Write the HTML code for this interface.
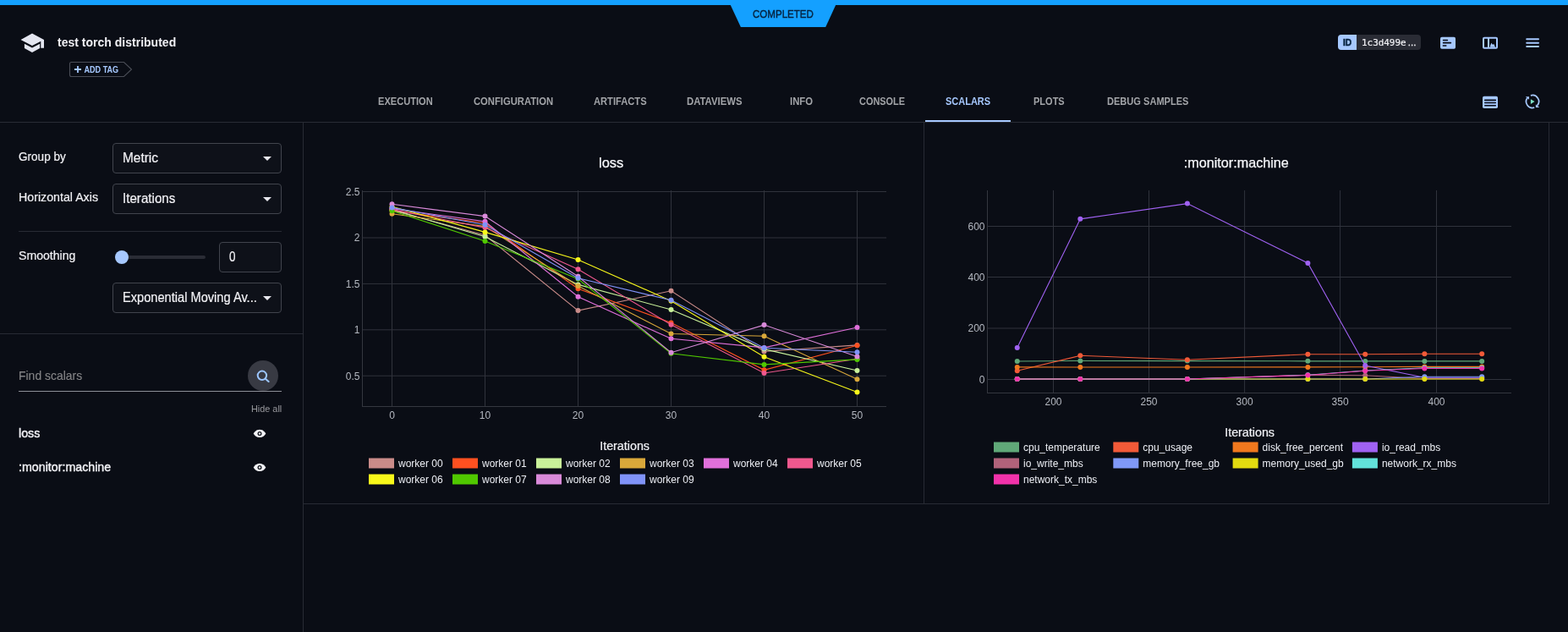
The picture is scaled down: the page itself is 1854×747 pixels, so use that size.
<!DOCTYPE html>
<html lang="en"><head><meta charset="utf-8"><title>test torch distributed</title>
<style>
*{box-sizing:border-box;margin:0;padding:0}
html,body{width:1854px;height:747px;overflow:hidden;background:#0a0d15;font-family:"Liberation Sans", sans-serif;color:#e4e6ee}
.abs{position:absolute}
.t{position:absolute;white-space:pre;transform-origin:0 50%}
#top{position:absolute;left:0;top:0;width:1854px;height:6px;background:#14a0ff}
#status{position:absolute;left:863px;top:5px;width:126px;height:27px;background:#14a0ff;clip-path:polygon(0.3px 0,125.6px 0,113.2px 100%,12.9px 100%)}
#tabline{position:absolute;left:0;top:144px;width:1854px;height:1px;background:#282b34}
#actline{position:absolute;left:1094px;top:142px;width:101px;height:2px;background:#a6c8ff}
.sel{position:absolute;left:133px;width:200px;height:36px;border:1px solid #41444d;border-radius:4px;background:#0e1119}
.sel.dd:after{content:"";position:absolute;right:11px;top:15px;border-left:5px solid transparent;border-right:5px solid transparent;border-top:5px solid #e8e8ee}
.hr{position:absolute;height:1px;background:#282b34}
svg text{font-family:"Liberation Sans", sans-serif}
.tk{font-size:12px;fill:#b4b8c0}
.ttl{font-size:16.4px;fill:#f6f7fa;stroke:#f6f7fa;stroke-width:.25px}
.axt{font-size:14.2px;fill:#f2f3f7;stroke:#f2f3f7;stroke-width:.2px}
.lg{font-size:12px;fill:#eceef4}
</style></head><body>
<header>
<div id="top"></div>
<div id="status"></div><span class="t " style="left:889.60px;top:8.00px;font-size:12.4px;line-height:18px;color:#06223e;transform:scaleX(0.9324);-webkit-text-stroke:0.4px #06223e;">COMPLETED</span>

<svg class="abs" style="left:24px;top:39px" width="30" height="24" viewBox="0 0 30 24">
 <path d="M14 0.4 L0.5 8 L14 15.1 L24.3 9.7 V17.8 H28 V8 Z" fill="#e4e6f0"/>
 <path d="M4.9 12.8 V17.9 L14 23 L23.1 17.9 V12.8 L14 17.5 Z" fill="#e4e6f0"/>
</svg>
<h1 style="font-size:0"><span class="t " style="left:68.20px;top:39.00px;font-size:15px;line-height:21px;color:#f0f0f4;font-weight:bold;transform:scaleX(0.9346);">test torch distributed</span></h1>

<svg class="abs" style="left:81px;top:72px" width="78" height="20" viewBox="0 0 78 20">
 <path d="M3.5 1.5 H65.5 L74.5 10 L65.5 18.5 H3.5 Q1.5 18.5 1.5 16.5 V3.5 Q1.5 1.5 3.5 1.5 Z" fill="none" stroke="#4a4d56" stroke-width="1.1"/>
 <path d="M7 10 H15 M11 6 V14" stroke="#a6c8ff" stroke-width="1.8" fill="none"/>
 <text x="18.4" y="13.9" font-size="11" font-weight="bold" fill="#a6c8ff" textLength="40.8" lengthAdjust="spacingAndGlyphs">ADD TAG</text>
</svg>

<div class="abs" style="left:1582px;top:41px;width:98px;height:18px;border-radius:4px;background:#2a2c35;overflow:hidden">
 <div class="abs" style="left:0;top:0;width:22px;height:18px;background:#a6c8ff"></div>
</div>
<span class="t " style="left:1588.00px;top:42.00px;font-size:11.5px;line-height:16px;color:#06223e;font-weight:bold;transform:scaleX(0.8870);-webkit-text-stroke:0.5px #06223e;">ID</span><span class="t " style="left:1609.60px;top:42.00px;font-size:11px;line-height:17px;color:#f0f0f4;font-family:'DejaVu Sans Mono','Liberation Mono',monospace;transform:scaleX(0.9927);-webkit-text-stroke:0.2px #f0f0f4;">1c3d499e</span><span class="t " style="left:1664.80px;top:42.00px;font-size:11.5px;line-height:16px;color:#f0f0f4;-webkit-text-stroke:0.3px #f0f0f4;">...</span>

<svg class="abs" style="left:1703px;top:43px" width="18" height="16" viewBox="0 0 18 16">
 <rect x="0" y="0.7" width="18" height="14" rx="1.8" fill="#a6c8ff"/>
 <path d="M3.6 4.45 H8.4 M3.6 7.65 H12.4 M3.4 10.95 H6.8" stroke="#070a12" stroke-width="1.6" stroke-linecap="round" fill="none"/>
</svg>
<svg class="abs" style="left:1753px;top:43px" width="18" height="16" viewBox="0 0 18 16">
 <rect x="1" y="1.7" width="16" height="12" rx="1" fill="none" stroke="#a6c8ff" stroke-width="2"/>
 <rect x="6" y="1.7" width="2" height="12" fill="#a6c8ff"/>
 <path d="M9 12.7 V11.2 L10.3 7.8 L11.9 9.7 L13.3 9 L15 12.7 Z" fill="#a6c8ff"/>
</svg>
<svg class="abs" style="left:1803px;top:43px" width="18" height="16" viewBox="0 0 18 16">
 <path d="M2.2 3.3 H16 M2.2 7.7 H16 M2.2 12 H16" stroke="#a6c8ff" stroke-width="2" stroke-linecap="round" fill="none"/>
</svg>
</header>

<nav>
<span class="t " style="left:447.00px;top:111.00px;font-size:12.3px;line-height:18px;color:#a2a4a8;font-weight:bold;transform:scaleX(0.9017);">EXECUTION</span>
<span class="t " style="left:559.70px;top:111.00px;font-size:12.3px;line-height:18px;color:#a2a4a8;font-weight:bold;transform:scaleX(0.9143);">CONFIGURATION</span>
<span class="t " style="left:701.80px;top:111.00px;font-size:12.3px;line-height:18px;color:#a2a4a8;font-weight:bold;transform:scaleX(0.9072);">ARTIFACTS</span>
<span class="t " style="left:812.40px;top:111.00px;font-size:12.3px;line-height:18px;color:#a2a4a8;font-weight:bold;transform:scaleX(0.9219);">DATAVIEWS</span>
<span class="t " style="left:933.50px;top:111.00px;font-size:12.3px;line-height:18px;color:#a2a4a8;font-weight:bold;transform:scaleX(0.9191);">INFO</span>
<span class="t " style="left:1016.00px;top:111.00px;font-size:12.3px;line-height:18px;color:#a2a4a8;font-weight:bold;transform:scaleX(0.8880);">CONSOLE</span>
<span class="t " style="left:1118.00px;top:111.00px;font-size:12.3px;line-height:18px;color:#a6c8ff;font-weight:bold;transform:scaleX(0.8934);">SCALARS</span>
<span class="t " style="left:1221.80px;top:111.00px;font-size:12.3px;line-height:18px;color:#a2a4a8;font-weight:bold;transform:scaleX(0.8951);">PLOTS</span>
<span class="t " style="left:1308.90px;top:111.00px;font-size:12.3px;line-height:18px;color:#a2a4a8;font-weight:bold;transform:scaleX(0.8995);">DEBUG SAMPLES</span>
<svg class="abs" style="left:1753px;top:113px" width="18" height="16" viewBox="0 0 18 16">
 <rect x="0" y="0.75" width="18" height="14.3" rx="1.8" fill="#a6c8ff"/>
 <path d="M2.8 5.4 H15.3 M2.8 8.5 H15.3 M2.8 11.7 H15.3" stroke="#070a12" stroke-width="1.6" stroke-linecap="round" fill="none"/>
</svg>
<svg class="abs" style="left:1802px;top:110px" width="20" height="20" viewBox="0 0 20 20">
 <path d="M7.9 2.9 A7.4 7.4 0 0 1 15.6 14.9" fill="none" stroke="#a6c8ff" stroke-width="1.7"/>
 <path d="M12.2 17.1 A7.4 7.4 0 0 1 3.9 5.8" fill="none" stroke="#a6c8ff" stroke-width="1.7"/>
 <path d="M13.8 13.6 L18.2 17.0 L13.9 17.1 Z" fill="#a6c8ff"/>
 <path d="M1.84 4.16 L6.05 4.32 L5.93 7.85 Z" fill="#a6c8ff"/>
 <path d="M7.9 7.2 L7.9 12.9 L12.6 10.05 Z" fill="#7ce0c4"/>
</svg>
<div id="tabline"></div>
<div id="actline"></div>
</nav>

<aside>
<div class="abs" style="left:358px;top:145px;width:1px;height:602px;background:#282b34"></div>
<span class="t " style="left:22.10px;top:174.00px;font-size:15.0px;line-height:21px;color:#f2f2f6;transform:scaleX(0.9043);-webkit-text-stroke:0.2px #f2f2f6;">Group by</span>
<div class="sel dd" style="top:169px"></div><span class="t " style="left:145.20px;top:176.00px;font-size:16.0px;line-height:21px;color:#f2f2f6;transform:scaleX(0.9641);-webkit-text-stroke:0.2px #f2f2f6;">Metric</span>
<span class="t " style="left:22.10px;top:222.00px;font-size:15.0px;line-height:21px;color:#f2f2f6;transform:scaleX(0.9474);-webkit-text-stroke:0.2px #f2f2f6;">Horizontal Axis</span>
<div class="sel dd" style="top:217px"></div><span class="t " style="left:145.20px;top:224.00px;font-size:16.0px;line-height:21px;color:#f2f2f6;transform:scaleX(0.9466);-webkit-text-stroke:0.2px #f2f2f6;">Iterations</span>
<div class="hr" style="left:22px;top:273px;width:311px"></div>
<span class="t " style="left:22.10px;top:291.00px;font-size:15.0px;line-height:21px;color:#f2f2f6;transform:scaleX(0.9398);-webkit-text-stroke:0.2px #f2f2f6;">Smoothing</span>
<div class="abs" style="left:144px;top:302px;width:99px;height:4px;border-radius:2px;background:#2a2c35"></div>
<div class="abs" style="left:136px;top:296px;width:16px;height:16px;border-radius:8px;background:#a6c8ff"></div>
<div class="sel" style="left:259px;width:74px;top:286px"></div><span class="t " style="left:271.20px;top:293.00px;font-size:16.0px;line-height:21px;color:#f2f2f6;transform:scaleX(0.8421);-webkit-text-stroke:0.2px #f2f2f6;">0</span>
<div class="sel dd" style="top:334px"></div><span class="t " style="left:145.20px;top:341.00px;font-size:16.0px;line-height:21px;color:#f2f2f6;transform:scaleX(0.9140);-webkit-text-stroke:0.2px #f2f2f6;">Exponential Moving Av...</span>
<div class="hr" style="left:0;top:394px;width:358px"></div>
<span class="t " style="left:22.10px;top:433.00px;font-size:15.0px;line-height:21px;color:#868688;transform:scaleX(0.9300);-webkit-text-stroke:0.1px #868688;">Find scalars</span>
<div class="abs" style="left:22px;top:462px;width:311px;height:1px;background:#8c8e96"></div>
<div class="abs" style="left:293px;top:426px;width:36px;height:36px;border-radius:18px;background:#383a43"></div>
<svg class="abs" style="left:301px;top:434px" width="20" height="20" viewBox="0 0 20 20">
 <circle cx="8.9" cy="9.8" r="5.2" fill="none" stroke="#9cc6ff" stroke-width="2"/>
 <path d="M12.9 13.7 L16.6 17.0" stroke="#9cc6ff" stroke-width="2.1" stroke-linecap="round"/>
</svg>
<span class="t " style="left:296.80px;top:475.00px;font-size:11.2px;line-height:16px;color:#98999e;transform:scaleX(0.9702);">Hide all</span>
<span class="t " style="left:22.10px;top:501.00px;font-size:15.0px;line-height:21px;color:#f2f2f6;transform:scaleX(0.9480);-webkit-text-stroke:0.4px #f2f2f6;">loss</span>
<span class="t " style="left:22.10px;top:541.00px;font-size:15.0px;line-height:21px;color:#f2f2f6;transform:scaleX(0.9490);-webkit-text-stroke:0.4px #f2f2f6;">:monitor:machine</span>
<svg class="abs" style="left:299px;top:506px" width="16" height="12" viewBox="0 0 16 12"><path d="M8 1.8 C4.6 1.8 2 4 0.7 6.45 C2 8.9 4.6 11.1 8 11.1 C11.4 11.1 14 8.9 15.3 6.45 C14 4 11.4 1.8 8 1.8 Z" fill="#f4f4f8"/><circle cx="8" cy="6.45" r="2.5" fill="#0a0d15"/><circle cx="8" cy="6.45" r="1.2" fill="#f4f4f8"/></svg>
<svg class="abs" style="left:299px;top:546px" width="16" height="12" viewBox="0 0 16 12"><path d="M8 1.8 C4.6 1.8 2 4 0.7 6.45 C2 8.9 4.6 11.1 8 11.1 C11.4 11.1 14 8.9 15.3 6.45 C14 4 11.4 1.8 8 1.8 Z" fill="#f4f4f8"/><circle cx="8" cy="6.45" r="2.5" fill="#0a0d15"/><circle cx="8" cy="6.45" r="1.2" fill="#f4f4f8"/></svg>
</aside>

<main>
<div class="abs" style="left:1092px;top:145px;width:1px;height:451px;background:#282b34"></div>
<div class="abs" style="left:1831px;top:145px;width:1px;height:451px;background:#282b34"></div>
<div class="abs" style="left:359px;top:595px;width:1472px;height:1px;background:#282b34"></div>
<svg class="abs" style="left:0;top:0" width="1854" height="747" viewBox="0 0 1854 747">
<line x1="463.5" y1="225" x2="463.5" y2="480" stroke="#30333c"/>
<line x1="573.5" y1="225" x2="573.5" y2="480" stroke="#30333c"/>
<line x1="683.5" y1="225" x2="683.5" y2="480" stroke="#30333c"/>
<line x1="793.5" y1="225" x2="793.5" y2="480" stroke="#30333c"/>
<line x1="903.5" y1="225" x2="903.5" y2="480" stroke="#30333c"/>
<line x1="1013.5" y1="225" x2="1013.5" y2="480" stroke="#30333c"/>
<line x1="428" y1="226.5" x2="1048" y2="226.5" stroke="#30333c"/>
<line x1="428" y1="281" x2="1048" y2="281" stroke="#30333c"/>
<line x1="428" y1="335.4" x2="1048" y2="335.4" stroke="#30333c"/>
<line x1="428" y1="389.8" x2="1048" y2="389.8" stroke="#30333c"/>
<line x1="428" y1="444.2" x2="1048" y2="444.2" stroke="#30333c"/>
<line x1="428.5" y1="225" x2="428.5" y2="480.5" stroke="#34373f"/>
<line x1="428" y1="480.5" x2="1048" y2="480.5" stroke="#34373f"/>
<g fill="#c98b89"><polyline points="463.5,248.6 573.5,278.0 683.5,367.1 793.5,343.8 903.5,415.5 1013.5,407.9" fill="none" stroke="#c98b89" stroke-width="1.1"/><circle cx="463.5" cy="248.6" r="3"/><circle cx="573.5" cy="278.0" r="3"/><circle cx="683.5" cy="367.1" r="3"/><circle cx="793.5" cy="343.8" r="3"/><circle cx="903.5" cy="415.5" r="3"/><circle cx="1013.5" cy="407.9" r="3"/></g>
<g fill="#ff5020"><polyline points="463.5,249.0 573.5,263.5 683.5,341.2 793.5,381.5 903.5,437.3 1013.5,408.3" fill="none" stroke="#ff5020" stroke-width="1.1"/><circle cx="463.5" cy="249.0" r="3"/><circle cx="573.5" cy="263.5" r="3"/><circle cx="683.5" cy="341.2" r="3"/><circle cx="793.5" cy="381.5" r="3"/><circle cx="903.5" cy="437.3" r="3"/><circle cx="1013.5" cy="408.3" r="3"/></g>
<g fill="#c9f19a"><polyline points="463.5,247.6 573.5,279.8 683.5,336.4 793.5,365.9 903.5,412.6 1013.5,438.0" fill="none" stroke="#c9f19a" stroke-width="1.1"/><circle cx="463.5" cy="247.6" r="3"/><circle cx="573.5" cy="279.8" r="3"/><circle cx="683.5" cy="336.4" r="3"/><circle cx="793.5" cy="365.9" r="3"/><circle cx="903.5" cy="412.6" r="3"/><circle cx="1013.5" cy="438.0" r="3"/></g>
<g fill="#d9a83a"><polyline points="463.5,252.7 573.5,267.6 683.5,338.0 793.5,394.5 903.5,397.2 1013.5,448.3" fill="none" stroke="#d9a83a" stroke-width="1.1"/><circle cx="463.5" cy="252.7" r="3"/><circle cx="573.5" cy="267.6" r="3"/><circle cx="683.5" cy="338.0" r="3"/><circle cx="793.5" cy="394.5" r="3"/><circle cx="903.5" cy="397.2" r="3"/><circle cx="1013.5" cy="448.3" r="3"/></g>
<g fill="#e070da"><polyline points="463.5,246.6 573.5,261.7 683.5,350.8 793.5,400.3 903.5,410.9 1013.5,387.0" fill="none" stroke="#e070da" stroke-width="1.1"/><circle cx="463.5" cy="246.6" r="3"/><circle cx="573.5" cy="261.7" r="3"/><circle cx="683.5" cy="350.8" r="3"/><circle cx="793.5" cy="400.3" r="3"/><circle cx="903.5" cy="410.9" r="3"/><circle cx="1013.5" cy="387.0" r="3"/></g>
<g fill="#f0588e"><polyline points="463.5,247.6 573.5,269.1 683.5,318.3 793.5,383.8 903.5,441.0 1013.5,424.2" fill="none" stroke="#f0588e" stroke-width="1.1"/><circle cx="463.5" cy="247.6" r="3"/><circle cx="573.5" cy="269.1" r="3"/><circle cx="683.5" cy="318.3" r="3"/><circle cx="793.5" cy="383.8" r="3"/><circle cx="903.5" cy="441.0" r="3"/><circle cx="1013.5" cy="424.2" r="3"/></g>
<g fill="#f8f81a"><polyline points="463.5,244.2 573.5,274.4 683.5,306.9 793.5,355.7 903.5,421.8 1013.5,463.4" fill="none" stroke="#f8f81a" stroke-width="1.1"/><circle cx="463.5" cy="244.2" r="3"/><circle cx="573.5" cy="274.4" r="3"/><circle cx="683.5" cy="306.9" r="3"/><circle cx="793.5" cy="355.7" r="3"/><circle cx="903.5" cy="421.8" r="3"/><circle cx="1013.5" cy="463.4" r="3"/></g>
<g fill="#50c800"><polyline points="463.5,249.2 573.5,285.0 683.5,329.8 793.5,417.7 903.5,430.9 1013.5,424.9" fill="none" stroke="#50c800" stroke-width="1.1"/><circle cx="463.5" cy="249.2" r="3"/><circle cx="573.5" cy="285.0" r="3"/><circle cx="683.5" cy="329.8" r="3"/><circle cx="793.5" cy="417.7" r="3"/><circle cx="903.5" cy="430.9" r="3"/><circle cx="1013.5" cy="424.9" r="3"/></g>
<g fill="#d98ad9"><polyline points="463.5,241.3 573.5,255.6 683.5,326.8 793.5,416.7 903.5,384.1 1013.5,421.5" fill="none" stroke="#d98ad9" stroke-width="1.1"/><circle cx="463.5" cy="241.3" r="3"/><circle cx="573.5" cy="255.6" r="3"/><circle cx="683.5" cy="326.8" r="3"/><circle cx="793.5" cy="416.7" r="3"/><circle cx="903.5" cy="384.1" r="3"/><circle cx="1013.5" cy="421.5" r="3"/></g>
<g fill="#8093f8"><polyline points="463.5,245.4 573.5,265.7 683.5,328.8 793.5,354.8 903.5,411.2 1013.5,416.2" fill="none" stroke="#8093f8" stroke-width="1.1"/><circle cx="463.5" cy="245.4" r="3"/><circle cx="573.5" cy="265.7" r="3"/><circle cx="683.5" cy="328.8" r="3"/><circle cx="793.5" cy="354.8" r="3"/><circle cx="903.5" cy="411.2" r="3"/><circle cx="1013.5" cy="416.2" r="3"/></g>
<text x="425.5" y="230.8" text-anchor="end" class="tk">2.5</text>
<text x="425.5" y="285.3" text-anchor="end" class="tk">2</text>
<text x="425.5" y="339.7" text-anchor="end" class="tk">1.5</text>
<text x="425.5" y="394.1" text-anchor="end" class="tk">1</text>
<text x="425.5" y="448.5" text-anchor="end" class="tk">0.5</text>
<text x="463.5" y="495.3" text-anchor="middle" class="tk">0</text>
<text x="573.5" y="495.3" text-anchor="middle" class="tk">10</text>
<text x="683.5" y="495.3" text-anchor="middle" class="tk">20</text>
<text x="793.5" y="495.3" text-anchor="middle" class="tk">30</text>
<text x="903.5" y="495.3" text-anchor="middle" class="tk">40</text>
<text x="1013.5" y="495.3" text-anchor="middle" class="tk">50</text>
<text x="708" y="198" class="ttl" textLength="29.2" lengthAdjust="spacingAndGlyphs">loss</text>
<text x="709.2" y="532" class="axt" textLength="58.8" lengthAdjust="spacingAndGlyphs">Iterations</text>
<rect x="436" y="541.5" width="30" height="12" fill="#c98b89"/>
<text x="471" y="551.8" class="lg">worker 00</text>
<rect x="535" y="541.5" width="30" height="12" fill="#ff5020"/>
<text x="570" y="551.8" class="lg">worker 01</text>
<rect x="634" y="541.5" width="30" height="12" fill="#c9f19a"/>
<text x="669" y="551.8" class="lg">worker 02</text>
<rect x="733" y="541.5" width="30" height="12" fill="#d9a83a"/>
<text x="768" y="551.8" class="lg">worker 03</text>
<rect x="832" y="541.5" width="30" height="12" fill="#e070da"/>
<text x="867" y="551.8" class="lg">worker 04</text>
<rect x="931" y="541.5" width="30" height="12" fill="#f0588e"/>
<text x="966" y="551.8" class="lg">worker 05</text>
<rect x="436" y="560.5" width="30" height="12" fill="#f8f81a"/>
<text x="471" y="570.8" class="lg">worker 06</text>
<rect x="535" y="560.5" width="30" height="12" fill="#50c800"/>
<text x="570" y="570.8" class="lg">worker 07</text>
<rect x="634" y="560.5" width="30" height="12" fill="#d98ad9"/>
<text x="669" y="570.8" class="lg">worker 08</text>
<rect x="733" y="560.5" width="30" height="12" fill="#8093f8"/>
<text x="768" y="570.8" class="lg">worker 09</text>
<line x1="1245.5" y1="225" x2="1245.5" y2="464" stroke="#30333c"/>
<line x1="1358.5" y1="225" x2="1358.5" y2="464" stroke="#30333c"/>
<line x1="1471.6" y1="225" x2="1471.6" y2="464" stroke="#30333c"/>
<line x1="1584.6" y1="225" x2="1584.6" y2="464" stroke="#30333c"/>
<line x1="1698.5" y1="225" x2="1698.5" y2="464" stroke="#30333c"/>
<line x1="1167" y1="267.5" x2="1787" y2="267.5" stroke="#30333c"/>
<line x1="1167" y1="327.5" x2="1787" y2="327.5" stroke="#30333c"/>
<line x1="1167" y1="388" x2="1787" y2="388" stroke="#30333c"/>
<line x1="1167" y1="448.5" x2="1787" y2="448.5" stroke="#30333c"/>
<line x1="1167.5" y1="225" x2="1167.5" y2="464.5" stroke="#34373f"/>
<line x1="1167" y1="464.5" x2="1787" y2="464.5" stroke="#34373f"/>
<g fill="#60a878"><polyline points="1202.75,427.0 1277.3,426.45 1403.9,426.6 1546.4,426.85 1614.2,426.9 1684.4,426.9 1752.2,426.9" fill="none" stroke="#60a878" stroke-width="1.1"/><circle cx="1202.75" cy="427.0" r="3"/><circle cx="1277.3" cy="426.45" r="3"/><circle cx="1403.9" cy="426.6" r="3"/><circle cx="1546.4" cy="426.85" r="3"/><circle cx="1614.2" cy="426.9" r="3"/><circle cx="1684.4" cy="426.9" r="3"/><circle cx="1752.2" cy="426.9" r="3"/></g>
<g fill="#f25a38"><polyline points="1202.75,438.3 1277.3,420.3 1403.9,425.3 1546.4,418.7 1614.2,418.7 1684.4,418.3 1752.2,418.3" fill="none" stroke="#f25a38" stroke-width="1.1"/><circle cx="1202.75" cy="438.3" r="3"/><circle cx="1277.3" cy="420.3" r="3"/><circle cx="1403.9" cy="425.3" r="3"/><circle cx="1546.4" cy="418.7" r="3"/><circle cx="1614.2" cy="418.7" r="3"/><circle cx="1684.4" cy="418.3" r="3"/><circle cx="1752.2" cy="418.3" r="3"/></g>
<g fill="#f0781e"><polyline points="1202.75,433.9 1277.3,434.0 1403.9,434.0 1546.4,433.9 1614.2,433.8 1684.4,433.4 1752.2,433.4" fill="none" stroke="#f0781e" stroke-width="1.1"/><circle cx="1202.75" cy="433.9" r="3"/><circle cx="1277.3" cy="434.0" r="3"/><circle cx="1403.9" cy="434.0" r="3"/><circle cx="1546.4" cy="433.9" r="3"/><circle cx="1614.2" cy="433.8" r="3"/><circle cx="1684.4" cy="433.4" r="3"/><circle cx="1752.2" cy="433.4" r="3"/></g>
<g fill="#a062f2"><polyline points="1202.75,411.1 1277.3,258.85 1403.9,240.6 1546.4,311.0 1614.2,432.1 1684.4,446.2 1752.2,446.2" fill="none" stroke="#a062f2" stroke-width="1.1"/><circle cx="1202.75" cy="411.1" r="3"/><circle cx="1277.3" cy="258.85" r="3"/><circle cx="1403.9" cy="240.6" r="3"/><circle cx="1546.4" cy="311.0" r="3"/><circle cx="1614.2" cy="432.1" r="3"/><circle cx="1684.4" cy="446.2" r="3"/><circle cx="1752.2" cy="446.2" r="3"/></g>
<g fill="#b0627a"><polyline points="1202.75,448.0 1277.3,448.0 1403.9,448.0 1546.4,443.2 1614.2,443.7 1684.4,447.5 1752.2,447.5" fill="none" stroke="#b0627a" stroke-width="1.1"/><circle cx="1202.75" cy="448.0" r="3"/><circle cx="1277.3" cy="448.0" r="3"/><circle cx="1403.9" cy="448.0" r="3"/><circle cx="1546.4" cy="443.2" r="3"/><circle cx="1614.2" cy="443.7" r="3"/><circle cx="1684.4" cy="447.5" r="3"/><circle cx="1752.2" cy="447.5" r="3"/></g>
<g fill="#8099f8"><polyline points="1202.75,448.0 1277.3,448.0 1403.9,448.0 1546.4,448.0 1614.2,448.0 1684.4,445.2 1752.2,445.2" fill="none" stroke="#8099f8" stroke-width="1.1"/><circle cx="1202.75" cy="448.0" r="3"/><circle cx="1277.3" cy="448.0" r="3"/><circle cx="1403.9" cy="448.0" r="3"/><circle cx="1546.4" cy="448.0" r="3"/><circle cx="1614.2" cy="448.0" r="3"/><circle cx="1684.4" cy="445.2" r="3"/><circle cx="1752.2" cy="445.2" r="3"/></g>
<g fill="#e2da10"><polyline points="1202.75,448.0 1277.3,448.0 1403.9,448.0 1546.4,448.0 1614.2,448.0 1684.4,448.0 1752.2,448.0" fill="none" stroke="#e2da10" stroke-width="1.1"/><circle cx="1202.75" cy="448.0" r="3"/><circle cx="1277.3" cy="448.0" r="3"/><circle cx="1403.9" cy="448.0" r="3"/><circle cx="1546.4" cy="448.0" r="3"/><circle cx="1614.2" cy="448.0" r="3"/><circle cx="1684.4" cy="448.0" r="3"/><circle cx="1752.2" cy="448.0" r="3"/></g>
<g fill="#62e2da"><polyline points="1202.75,448.0 1277.3,448.0 1403.9,448.0 1546.4,443.3 1614.2,438.0 1684.4,434.8 1752.2,434.8" fill="none" stroke="#62e2da" stroke-width="1.1"/><circle cx="1202.75" cy="448.0" r="3"/><circle cx="1277.3" cy="448.0" r="3"/><circle cx="1403.9" cy="448.0" r="3"/><circle cx="1546.4" cy="443.3" r="3"/><circle cx="1614.2" cy="438.0" r="3"/><circle cx="1684.4" cy="434.8" r="3"/><circle cx="1752.2" cy="434.8" r="3"/></g>
<g fill="#f232aa"><polyline points="1202.75,448.0 1277.3,448.0 1403.9,448.0 1546.4,443.5 1614.2,438.3 1684.4,435.5 1752.2,435.5" fill="none" stroke="#f232aa" stroke-width="1.1"/><circle cx="1202.75" cy="448.0" r="3"/><circle cx="1277.3" cy="448.0" r="3"/><circle cx="1403.9" cy="448.0" r="3"/><circle cx="1546.4" cy="443.5" r="3"/><circle cx="1614.2" cy="438.3" r="3"/><circle cx="1684.4" cy="435.5" r="3"/><circle cx="1752.2" cy="435.5" r="3"/></g>
<text x="1164.5" y="271.8" text-anchor="end" class="tk">600</text>
<text x="1164.5" y="331.8" text-anchor="end" class="tk">400</text>
<text x="1164.5" y="392.3" text-anchor="end" class="tk">200</text>
<text x="1164.5" y="452.8" text-anchor="end" class="tk">0</text>
<text x="1245.5" y="479.3" text-anchor="middle" class="tk">200</text>
<text x="1358.5" y="479.3" text-anchor="middle" class="tk">250</text>
<text x="1471.6" y="479.3" text-anchor="middle" class="tk">300</text>
<text x="1584.6" y="479.3" text-anchor="middle" class="tk">350</text>
<text x="1698.5" y="479.3" text-anchor="middle" class="tk">400</text>
<text x="1399.8" y="198" class="ttl" textLength="124" lengthAdjust="spacingAndGlyphs">:monitor:machine</text>
<text x="1448.2" y="516" class="axt" textLength="58.8" lengthAdjust="spacingAndGlyphs">Iterations</text>
<rect x="1175.0" y="522.5" width="30" height="12" fill="#60a878"/>
<text x="1210.0" y="532.8" class="lg">cpu_temperature</text>
<rect x="1316.3" y="522.5" width="30" height="12" fill="#f25a38"/>
<text x="1351.3" y="532.8" class="lg">cpu_usage</text>
<rect x="1457.6" y="522.5" width="30" height="12" fill="#f0781e"/>
<text x="1492.6" y="532.8" class="lg">disk_free_percent</text>
<rect x="1598.9" y="522.5" width="30" height="12" fill="#a062f2"/>
<text x="1633.9" y="532.8" class="lg">io_read_mbs</text>
<rect x="1175.0" y="541.5" width="30" height="12" fill="#b0627a"/>
<text x="1210.0" y="551.8" class="lg">io_write_mbs</text>
<rect x="1316.3" y="541.5" width="30" height="12" fill="#8099f8"/>
<text x="1351.3" y="551.8" class="lg">memory_free_gb</text>
<rect x="1457.6" y="541.5" width="30" height="12" fill="#e2da10"/>
<text x="1492.6" y="551.8" class="lg">memory_used_gb</text>
<rect x="1598.9" y="541.5" width="30" height="12" fill="#62e2da"/>
<text x="1633.9" y="551.8" class="lg">network_rx_mbs</text>
<rect x="1175.0" y="560.5" width="30" height="12" fill="#f232aa"/>
<text x="1210.0" y="570.8" class="lg">network_tx_mbs</text>
</svg>
</main>
</body></html>
